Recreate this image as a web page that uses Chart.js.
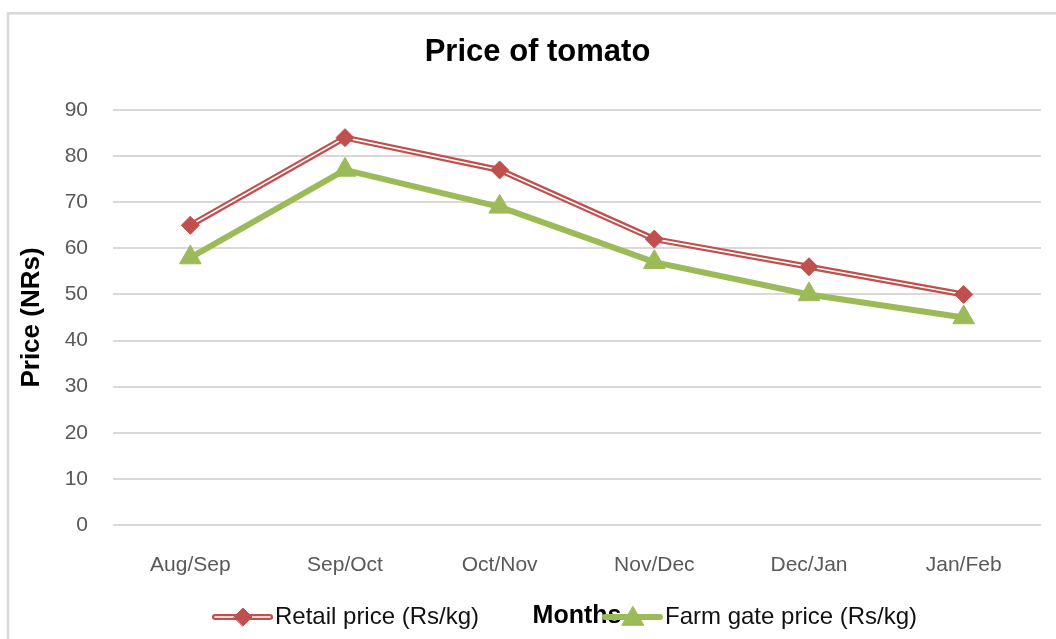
<!DOCTYPE html>
<html>
<head>
<meta charset="utf-8">
<script src="https://cdn.jsdelivr.net/npm/chart.js@4/dist/chart.umd.min.js"></script>
<style>
    html, body { margin: 0; padding: 0; background: #fff; }
    #wrap { width: 1056px; height: 639px; position: relative; }
</style>
</head>
<body>
<div id="wrap"><canvas id="price-chart"></canvas></div>
<script>
const months = ["Aug/Sep", "Sep/Oct", "Oct/Nov", "Nov/Dec", "Dec/Jan", "Jan/Feb"];
const retailPrice = [65, 84, 77, 62, 56, 50];
const farmGatePrice = [58, 77, 69, 57, 50, 45];
const yTicks = [0, 10, 20, 30, 40, 50, 60, 70, 80, 90];

const red = "#c0504d";
const green = "#9bbb59";
const font = "'Liberation Sans', Arial, sans-serif";

// grey frame around the whole chart
const framePlugin = {
    id: "frame",
    beforeDraw(chart) {
        const ctx = chart.ctx;
        ctx.save();
        ctx.fillStyle = "#fff";
        ctx.fillRect(0, 0, chart.width, chart.height);
        ctx.strokeStyle = "#d9d9d9";
        ctx.lineWidth = 2.5;
        ctx.strokeRect(8, 13.3, chart.width + 20, chart.height + 20);
        ctx.restore();
    },
};

// excel style legend: line with a marker in the middle
const legendPlugin = {
    id: "excelLegend",
    afterDraw(chart) {
        const ctx = chart.ctx;
        const y = 617;
        const items = [
            { x: 215, label: "Retail price (Rs/kg)", color: red, style: "rectRot", r: 9, double: true },
            { x: 605, label: "Farm gate price (Rs/kg)", color: green, style: "triangle", r: 12.5, double: false },
        ];
        ctx.save();
        items.forEach((it) => {
            ctx.strokeStyle = it.color;
            ctx.lineWidth = 6;
            ctx.lineCap = "round";
            ctx.beginPath();
            ctx.moveTo(it.x, y);
            ctx.lineTo(it.x + 55, y);
            ctx.stroke();
            if (it.double) {
                ctx.strokeStyle = "#fff";
                ctx.lineWidth = 1.6;
                ctx.beginPath();
                ctx.moveTo(it.x, y);
                ctx.lineTo(it.x + 55, y);
                ctx.stroke();
            }
            ctx.fillStyle = it.color;
            ctx.strokeStyle = it.color;
            ctx.lineWidth = 1;
            Chart.helpers.drawPoint(ctx, { pointStyle: it.style, radius: it.r, borderWidth: 1 }, it.x + 28, y + (it.style === "triangle" ? 2 : 0));
            ctx.fillStyle = "#111";
            ctx.font = "24px " + font;
            ctx.textBaseline = "middle";
            ctx.textAlign = "left";
            ctx.fillText(it.label, it.x + 60, y);
        });
        ctx.restore();
    },
};

async function main() {
    const canvas = document.querySelector("#price-chart");

    const data = {
        labels: months,
        datasets: [
            {
                label: "Retail price (Rs/kg)",
                data: retailPrice,
                showLine: false,
                pointStyle: "rectRot",
                pointRadius: 9,
                pointBackgroundColor: red,
                pointBorderColor: red,
                pointBorderWidth: 1,
                order: 0,
            },
            {
                label: "retail inner",
                data: retailPrice,
                borderColor: "#fff",
                borderWidth: 1.6,
                pointRadius: 0,
                order: 1,
            },
            {
                label: "retail outer",
                data: retailPrice,
                borderColor: red,
                borderWidth: 6,
                pointRadius: 0,
                order: 2,
            },
            {
                label: "Farm gate price (Rs/kg)",
                data: farmGatePrice,
                borderColor: green,
                backgroundColor: green,
                borderWidth: 6,
                pointStyle: "triangle",
                pointRadius: 12.5,
                pointBackgroundColor: green,
                pointBorderColor: green,
                pointBorderWidth: 1,
                order: 3,
            },
        ],
    };

    const config = {
        type: "line",
        data: data,
        options: {
            responsive: false,
            animation: false,
            devicePixelRatio: 1,
            layout: { padding: { left: 34, right: 15, top: 0, bottom: 0 } },
            plugins: {
                legend: { display: false },
                tooltip: { enabled: false },
                title: {
                    display: true,
                    text: "Price of tomato",
                    color: "#000",
                    font: { family: font, size: 31, weight: "bold" },
                    padding: { top: 33.4, bottom: 39.4 },
                },
            },
            scales: {
                x: {
                    offset: true,
                    grid: { display: false, drawTicks: false },
                    border: { display: false },
                    ticks: {
                        color: "#595959",
                        font: { family: font, size: 21 },
                        padding: 28,
                        maxRotation: 0,
                    },
                    title: {
                        display: true,
                        text: "Months",
                        color: "#000",
                        font: { family: font, size: 25, weight: "bold" },
                        padding: { top: 0, bottom: 8 },
                    },
                    afterFit(scale) {
                        scale.height = 114;
                    },
                },
                y: {
                    min: 0,
                    max: 90,
                    afterBuildTicks(scale) {
                        scale.ticks = yTicks.map((v) => ({ value: v }));
                    },
                    grid: { color: "#d9d9d9", lineWidth: 2, drawTicks: false },
                    border: { display: false },
                    ticks: {
                        color: "#595959",
                        font: { family: font, size: 21 },
                        padding: 25,
                    },
                    title: {
                        display: true,
                        text: "Price (NRs)",
                        color: "#000",
                        font: { family: font, size: 26, weight: "bold" },
                        padding: { top: -17.6, bottom: 0 },
                    },
                    afterFit(scale) {
                        scale.width = 79;
                    },
                },
            },
        },
        plugins: [framePlugin, legendPlugin],
    };
    canvas.width = 1056;
    canvas.height = 639;
    const myChart = new Chart(canvas, config);
}

main();
</script>
</body>
</html>
